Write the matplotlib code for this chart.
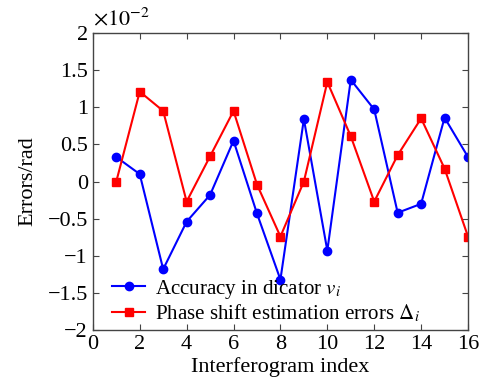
import matplotlib
matplotlib.use("Agg")
import matplotlib.pyplot as plt

plt.rcParams["font.family"] = ["Liberation Serif", "DejaVu Serif"]
plt.rcParams["mathtext.fontset"] = "stix"

# data (values in units of 1e-2 rad)
index = list(range(1, 17))
accuracy = [0.33, 0.10, -1.18, -0.54, -0.18, 0.55, -0.43, -1.32,
            0.84, -0.93, 1.37, 0.97, -0.42, -0.30, 0.86, 0.33]
phase_err = [0.0, 1.21, 0.95, -0.27, 0.34, 0.95, -0.04, -0.74,
             0.0, 1.34, 0.61, -0.27, 0.355, 0.85, 0.175, -0.74]
xticks = [0, 2, 4, 6, 8, 10, 12, 14, 16]
yticks = [-2, -1.5, -1, -0.5, 0, 0.5, 1, 1.5, 2]
ytick_labels = ["\u22122", "\u22121.5", "\u22121", "\u22120.5", "0", "0.5", "1", "1.5", "2"]

fs = 16
fig = plt.figure(figsize=(4.81, 3.83), dpi=100)
ax = fig.add_axes([0.193, 0.138, 0.78, 0.776])

ax.plot(index, accuracy, color="blue", marker="o", markersize=6, linewidth=1.5,
        label=r"Accuracy in dicator $v_i$")
ax.plot(index, phase_err, color="red", marker="s", markersize=6, linewidth=1.5,
        label=r"Phase shift estimation errors $\Delta_i$")

ax.set_xlim(0, 16)
ax.set_ylim(-2, 2)
ax.set_xticks(xticks)
ax.set_yticks(yticks)
ax.set_yticklabels(ytick_labels)
ax.tick_params(direction="in", top=True, right=True, labelsize=fs, length=4,
               color="#444444")
for s in ax.spines.values():
    s.set_color("#444444")
    s.set_linewidth(1.0)

ax.set_xlabel("Interferogram index", fontsize=fs, labelpad=2)
ax.set_ylabel("Errors/rad", fontsize=fs, labelpad=7)
ax.text(0.0, 1.01, r"$\times10^{-2}$", transform=ax.transAxes, fontsize=fs,
        ha="left", va="bottom")

leg = ax.legend(loc="lower left", bbox_to_anchor=(0.028, -0.01), frameon=False,
                fontsize=15.1, handlelength=1.6, borderaxespad=0, labelspacing=0.12,
                handletextpad=0.45)

fig.savefig("out.png", dpi=100)
